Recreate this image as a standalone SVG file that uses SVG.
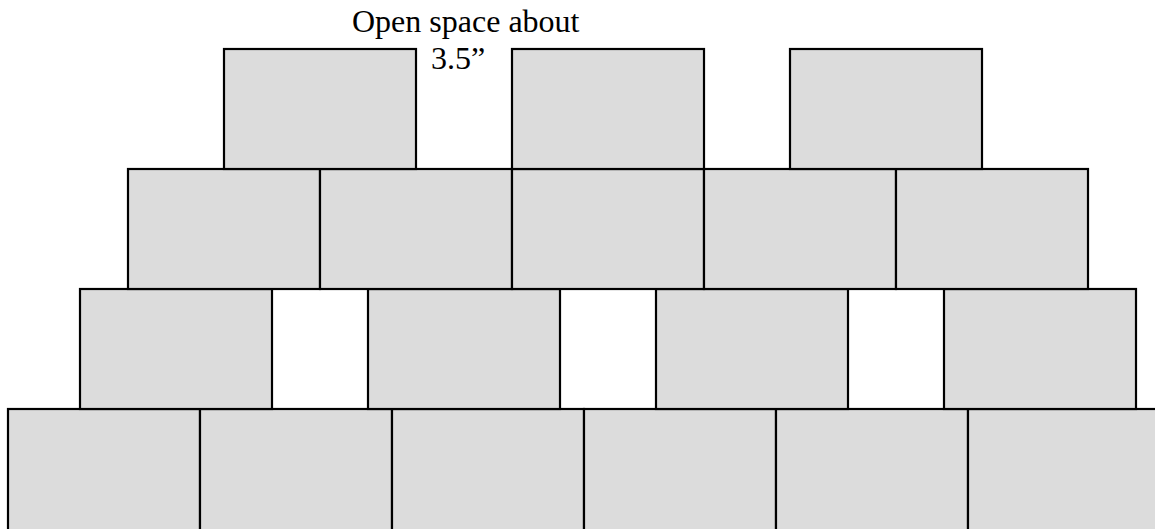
<svg xmlns="http://www.w3.org/2000/svg" width="1155" height="529" viewBox="0 0 1155 529">
<style>
.b{fill:#dcdcdc;stroke:#000;stroke-width:2.2}
.t{font-family:"Liberation Serif","Times New Roman",serif;font-size:32px;fill:#000}
</style>
<rect width="1155" height="529" fill="#fff"/>
<g id="row4">
<g id="b4-1"><rect class="b" x="8" y="409" width="192" height="124"/></g>
<g id="b4-2"><rect class="b" x="200" y="409" width="192" height="124"/></g>
<g id="b4-3"><rect class="b" x="392" y="409" width="192" height="124"/></g>
<g id="b4-4"><rect class="b" x="584" y="409" width="192" height="124"/></g>
<g id="b4-5"><rect class="b" x="776" y="409" width="192" height="124"/></g>
<g id="b4-6"><rect class="b" x="968" y="409" width="192" height="124"/></g>
</g>
<g id="row3">
<g id="b3-1"><rect class="b" x="80" y="289" width="192" height="120"/></g>
<g id="b3-2"><rect class="b" x="368" y="289" width="192" height="120"/></g>
<g id="b3-3"><rect class="b" x="656" y="289" width="192" height="120"/></g>
<g id="b3-4"><rect class="b" x="944" y="289" width="192" height="120"/></g>
</g>
<g id="row2">
<g id="b2-1"><rect class="b" x="128" y="169" width="192" height="120"/></g>
<g id="b2-2"><rect class="b" x="320" y="169" width="192" height="120"/></g>
<g id="b2-3"><rect class="b" x="512" y="169" width="192" height="120"/></g>
<g id="b2-4"><rect class="b" x="704" y="169" width="192" height="120"/></g>
<g id="b2-5"><rect class="b" x="896" y="169" width="192" height="120"/></g>
</g>
<g id="row1">
<g id="b1-1"><rect class="b" x="224" y="49" width="192" height="120"/></g>
<g id="b1-2"><rect class="b" x="512" y="49" width="192" height="120"/></g>
<g id="b1-3"><rect class="b" x="790" y="49" width="192" height="120"/></g>
</g>
<g id="label">
<text class="t" x="352" y="32">Open space about</text>
<text class="t" x="431" y="69">3.5”</text>
</g>
<g id="connectors"/>
</svg>
